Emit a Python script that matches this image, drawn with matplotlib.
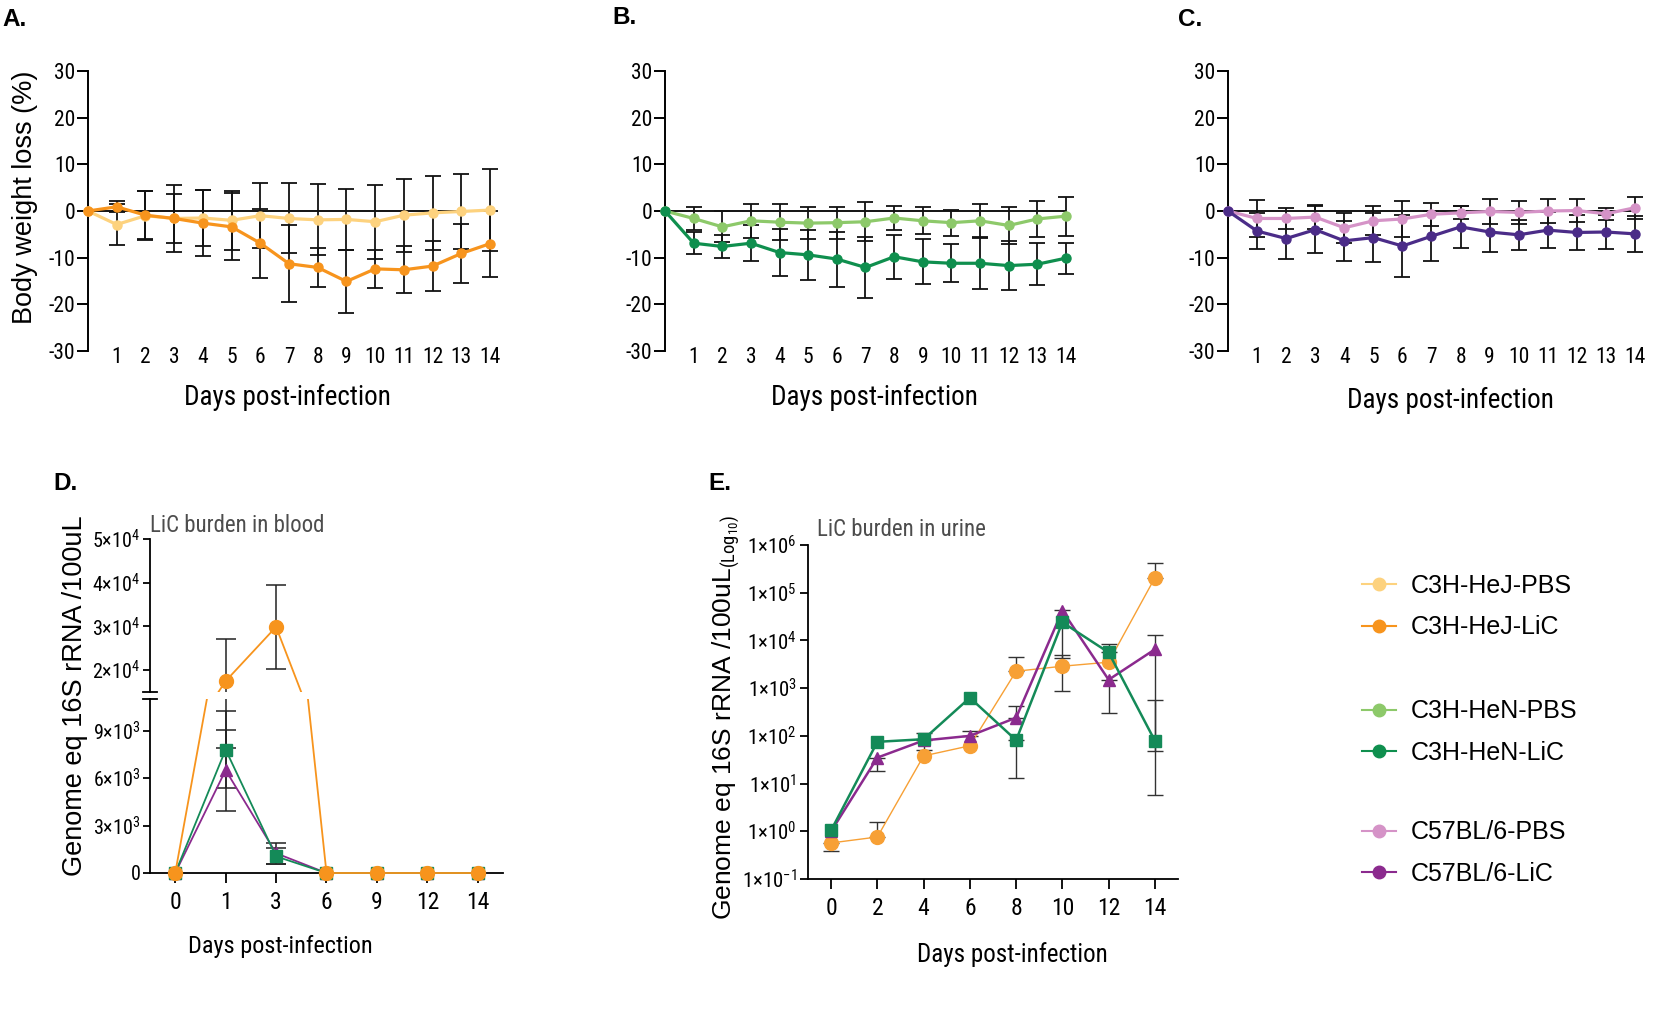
import numpy as np
import matplotlib
matplotlib.use('Agg')
import matplotlib.pyplot as plt
from matplotlib import font_manager
from matplotlib.lines import Line2D

def pick_font(names):
    for n in names:
        try:
            font_manager.findfont(font_manager.FontProperties(family=n), fallback_to_default=False)
            return n
        except Exception:
            pass
    return 'DejaVu Sans'

narrow = pick_font(['Liberation Sans Narrow', 'Roboto Condensed', 'Liberation Sans'])
regular = pick_font(['Liberation Sans', 'Arial', 'DejaVu Sans'])

plt.rcParams['font.family'] = [narrow, 'DejaVu Sans']
plt.rcParams['axes.unicode_minus'] = False
plt.rcParams['mathtext.fontset'] = 'custom'
plt.rcParams['mathtext.rm'] = narrow
plt.rcParams['mathtext.it'] = narrow
plt.rcParams['mathtext.bf'] = narrow

# ---- body weight (A-C), days 0..14
days = np.arange(15)
hej_pbs = [0, -2.9, -1.0, -1.6, -1.5, -2.0, -1.0, -1.6, -1.9, -1.8, -2.3, -0.9, -0.4, -0.1, 0.2]
hej_pbs_sd = [np.nan, 4.3, 5.2, 5.3, 5.9, 6.3, 7.0, 7.5, 7.6, 6.5, 7.9, 7.8, 8.0, 8.0, 8.7]
hej_lic = [0, 0.9, -0.9, -1.6, -2.6, -3.4, -6.9, -11.3, -12.1, -15.1, -12.4, -12.6, -11.8, -9.1, -7.0]
hej_lic_sd = [np.nan, 1.2, 5.1, 7.2, 7.0, 7.2, 7.4, 8.3, 4.1, 6.7, 4.0, 5.0, 5.4, 6.4, 7.1]

hen_pbs = [0, -1.6, -3.4, -2.1, -2.4, -2.6, -2.5, -2.3, -1.5, -2.1, -2.5, -2.1, -3.1, -1.7, -1.1]
hen_pbs_sd = [np.nan, 2.4, 3.3, 3.6, 3.9, 3.4, 3.4, 4.2, 2.6, 2.9, 2.8, 3.6, 3.9, 3.9, 4.2]
hen_lic = [0, -6.9, -7.6, -6.9, -8.9, -9.4, -10.3, -12.1, -9.8, -10.9, -11.2, -11.2, -11.7, -11.4, -10.1]
hen_lic_sd = [np.nan, 2.3, 2.5, 3.8, 5.0, 5.4, 5.9, 6.6, 4.7, 4.8, 4.1, 5.6, 5.2, 4.5, 3.3]

c57_pbs = [0, -1.6, -1.6, -1.3, -3.6, -2.1, -1.7, -0.7, -0.4, -0.1, -0.3, 0.0, 0.1, -0.6, 0.7]
c57_pbs_sd = [np.nan, 3.9, 2.3, 2.5, 3.2, 3.1, 3.8, 2.5, 1.4, 2.6, 2.4, 2.5, 2.4, 1.3, 2.4]
c57_lic = [0, -4.3, -5.9, -4.0, -6.4, -5.7, -7.5, -5.4, -3.4, -4.5, -5.1, -4.1, -4.6, -4.5, -4.9]
c57_lic_sd = [np.nan, 3.8, 4.4, 5.1, 4.3, 5.3, 6.6, 5.3, 4.5, 4.2, 3.2, 3.8, 3.7, 3.6, 3.9]

# ---- blood burden (D)
blood_days = ['0', '1', '3', '6', '9', '12', '14']
blood_hej = [0, 17500, 29900, 0, 0, 0, 0]
blood_hej_sd = [np.nan, 9600, 9600, np.nan, np.nan, np.nan, np.nan]
blood_hen = [0, 7800, 1050, 0, 0, 0, 0]
blood_hen_sd = [np.nan, 2450, 500, np.nan, np.nan, np.nan, np.nan]
blood_c57 = [0, 6500, 1250, 0, 0, 0, 0]
blood_c57_sd = [np.nan, 2550, 650, np.nan, np.nan, np.nan, np.nan]

# ---- urine burden (E), mean and error-bar ends
urine_days = [0, 2, 4, 6, 8, 10, 12, 14]
urine_hej = [0.57, 0.76, 38, 62, 2260, 2880, 3500, 2.05e5]
urine_hej_lo = [0.38, np.nan, np.nan, np.nan, np.nan, 860, np.nan, np.nan]
urine_hej_hi = [np.nan, 1.55, np.nan, np.nan, 4500, 5040, np.nan, 4.1e5]
urine_hen = [1.05, 75, 85, 630, 81, 24000, 5600, 79]
urine_hen_lo = [np.nan, np.nan, np.nan, np.nan, 13, 4300, np.nan, 49]
urine_hen_hi = [np.nan, np.nan, 115, np.nan, np.nan, 44000, 8500, 560]
urine_c57 = [1.0, 35, 80, 100, 240, 42000, 1500, 6500]
urine_c57_lo = [np.nan, 18, 51, np.nan, np.nan, np.nan, 300, 5.9]
urine_c57_hi = [np.nan, np.nan, np.nan, 128, 430, np.nan, np.nan, 13200]

groups = ['C3H-HeJ-PBS', 'C3H-HeJ-LiC', 'C3H-HeN-PBS', 'C3H-HeN-LiC', 'C57BL/6-PBS', 'C57BL/6-LiC']
colors = ['#fdd27e', '#f7941d', '#8dc96a', '#0f8f4e', '#d593c7', '#8b2a8e']
c57_dark = '#4b2c88'

W, H = 1674, 1034
fig = plt.figure(figsize=(W / 100, H / 100), dpi=100)

def box(l, t, r, b):
    return [l / W, 1 - b / H, (r - l) / W, (b - t) / H]

def weight_panel(rect, pbs, pbs_sd, lic, lic_sd, c_pbs, c_lic):
    ax = fig.add_axes(box(*rect))
    ax.axhline(0, color='black', lw=1.3, zorder=1)
    for m, sd, c in ((pbs, pbs_sd, c_pbs), (lic, lic_sd, c_lic)):
        ax.errorbar(days, m, yerr=sd, fmt='none', ecolor='#111111', elinewidth=1.3,
                    capsize=6, capthick=1.3, zorder=2, clip_on=False)
    for m, c in ((pbs, c_pbs), (lic, c_lic)):
        ax.plot(days, m, '-o', color=c, lw=2.3, ms=6.5, zorder=3, clip_on=False)
    ax.set_xlim(0, 14)
    ax.set_ylim(-30, 30)
    for s in ('top', 'right', 'bottom'):
        ax.spines[s].set_visible(False)
    ax.spines['left'].set_linewidth(1.4)
    ax.set_yticks([-30, -20, -10, 0, 10, 20, 30])
    ax.set_yticklabels(['-30', '-20', '-10', '0', '10', '20', '30'])
    ax.set_xticks(range(1, 15))
    ax.set_xticklabels([str(d) for d in range(1, 15)])
    ax.tick_params(axis='y', length=8, width=1.4, labelsize=15.5, pad=1)
    ax.tick_params(axis='x', length=0, labelsize=15.5, pad=-3)
    ax.patch.set_alpha(0)
    return ax

weight_panel((88, 71, 490, 351), hej_pbs, hej_pbs_sd, hej_lic, hej_lic_sd, colors[0], colors[1])
weight_panel((665, 71, 1066, 351), hen_pbs, hen_pbs_sd, hen_lic, hen_lic_sd, colors[2], colors[3])
weight_panel((1228, 71, 1635, 351), c57_pbs, c57_pbs_sd, c57_lic, c57_lic_sd, colors[4], c57_dark)

fig.text(25 / W, 1 - 197 / H, 'Body weight loss (%)', rotation=90, ha='center', va='center',
         fontsize=19.5, family=regular)
for xc, yc in ((287, 397), (874, 397), (1450, 400)):
    fig.text(xc / W, 1 - yc / H, 'Days post-infection', ha='center', va='center', fontsize=19.5)

# ---- D: broken axis (lower part padded below 0 so markers on the axis are not clipped)
pad = 600
ax_up = fig.add_axes(box(150, 539, 503, 692))
ax_lo = fig.add_axes(box(150, 699, 503, 873 + 174 * pad / 11000))
xpos = np.arange(len(blood_days))
series_d = [(blood_c57, blood_c57_sd, colors[5], '^', 9),
            (blood_hen, blood_hen_sd, '#148a58', 's', 8.5),
            (blood_hej, blood_hej_sd, colors[1], 'o', 10)]
for ax in (ax_up, ax_lo):
    for m, sd, c, mk, ms in series_d:
        ax.errorbar(xpos, m, yerr=sd, fmt='none', ecolor='#222222', elinewidth=1.1,
                    capsize=7, capthick=1.1, zorder=2)
    for m, sd, c, mk, ms in series_d:
        ax.plot(xpos, m, '-', marker=mk, color=c, lw=1.3, ms=ms, zorder=3)
    ax.set_xlim(-0.5, 6.5)
    for s in ('top', 'right'):
        ax.spines[s].set_visible(False)
    ax.spines['left'].set_linewidth(1.3)
    ax.tick_params(axis='y', length=5, width=1.3, labelsize=14.5, pad=2)
    ax.patch.set_alpha(0)
ax_up.set_ylim(15000, 50000)
ax_lo.set_ylim(-pad, 11000)
ax_lo.spines['bottom'].set_position(('data', 0))
ax_lo.spines['left'].set_bounds(0, 11000)
ax_up.spines['bottom'].set_visible(False)
ax_up.set_xticks([])
ax_up.set_yticks([20000, 30000, 40000, 50000])
ax_up.set_yticklabels([r'$\mathrm{%d{\times}10^{4}}$' % v for v in (2, 3, 4, 5)])
ax_lo.set_yticks([0, 3000, 6000, 9000])
ax_lo.set_yticklabels(['0'] + [r'$\mathrm{%d{\times}10^{3}}$' % v for v in (3, 6, 9)])
ax_lo.spines['bottom'].set_linewidth(1.3)
ax_lo.set_xticks(xpos)
ax_lo.set_xticklabels(blood_days)
ax_lo.tick_params(axis='x', length=7, width=1.3, labelsize=17, pad=6)
d = 7 / 353
ax_up.plot([-d, d], [0, 0], transform=ax_up.transAxes, color='black', lw=1.3, clip_on=False)
ax_lo.plot([-d, d], [1, 1], transform=ax_lo.transAxes, color='black', lw=1.3, clip_on=False)

fig.text(75 / W, 1 - 696 / H, 'Genome eq 16S rRNA /100uL', rotation=90, ha='center', va='center',
         fontsize=19.5, family=regular)
fig.text(280 / W, 1 - 947 / H, 'Days post-infection', ha='center', va='center', fontsize=17.5)
fig.text(237 / W, 1 - 525 / H, 'LiC burden in blood', ha='center', va='center', fontsize=16.5,
         color='#4d4d4d')

# ---- E: log axis
ax_e = fig.add_axes(box(808, 545, 1178, 879))

def err_from_bounds(m, lo, hi):
    m = np.array(m, float)
    lo = np.array(lo, float)
    hi = np.array(hi, float)
    e_lo = np.where(np.isnan(lo), 0, m - lo)
    e_hi = np.where(np.isnan(hi), 0, hi - m)
    none = np.isnan(lo) & np.isnan(hi)
    e_lo[none] = np.nan
    e_hi[none] = np.nan
    return [e_lo, e_hi]

series_e = [(urine_hej, urine_hej_lo, urine_hej_hi, '#f7a035', 'o', 10, 1.0),
            (urine_c57, urine_c57_lo, urine_c57_hi, colors[5], '^', 9, 1.8),
            (urine_hen, urine_hen_lo, urine_hen_hi, '#148a58', 's', 9, 1.8)]
for m, lo, hi, c, mk, ms, lw in series_e:
    ax_e.errorbar(urine_days, m, yerr=err_from_bounds(m, lo, hi), fmt='none', ecolor='#333333',
                  elinewidth=1.0, capsize=6, capthick=1.0, zorder=2)
for m, lo, hi, c, mk, ms, lw in series_e:
    ax_e.plot(urine_days, m, '-', marker=mk, color=c, lw=lw, ms=ms, zorder=3, clip_on=False)
ax_e.set_yscale('log')
ax_e.set_ylim(0.1, 1e6)
ax_e.set_xlim(-1, 15)
ax_e.set_yticks([10.0 ** k for k in range(-1, 7)])
ax_e.set_yticklabels([r'$\mathrm{1{\times}10^{%d}}$' % k for k in range(-1, 7)])
ax_e.yaxis.set_minor_locator(matplotlib.ticker.NullLocator())
ax_e.set_xticks(urine_days)
ax_e.set_xticklabels([str(v) for v in urine_days])
for s in ('top', 'right'):
    ax_e.spines[s].set_visible(False)
for s in ('left', 'bottom'):
    ax_e.spines[s].set_linewidth(1.3)
ax_e.tick_params(axis='y', length=6, width=1.3, labelsize=15, pad=2)
ax_e.tick_params(axis='x', length=7, width=1.3, labelsize=17, pad=6)
ax_e.patch.set_alpha(0)

fig.text(726 / W, 1 - 717 / H, 'Genome eq 16S rRNA /100uL' + r'$_{\mathrm{(Log_{10})}}$', rotation=90,
         ha='center', va='center', fontsize=19, family=regular)
fig.text(1012 / W, 1 - 955 / H, 'Days post-infection', ha='center', va='center', fontsize=18)
fig.text(901 / W, 1 - 530 / H, 'LiC burden in urine', ha='center', va='center', fontsize=16.5,
         color='#4d4d4d')

# ---- panel letters
for lab, xl, yl in (('A.', 2, 19), ('B.', 612, 17), ('C.', 1178, 19), ('D.', 53, 484), ('E.', 708, 484)):
    fig.text(xl / W, 1 - yl / H, lab, ha='left', va='center', fontsize=17.5, fontweight='bold',
             family=regular)

# ---- legend, three pairs
for i, yc in enumerate((606.5, 732, 853)):
    hs = [Line2D([], [], color=colors[2 * i + k], marker='o', lw=1.5, ms=9) for k in range(2)]
    fig.legend(hs, groups[2 * i:2 * i + 2], loc='center left', bbox_to_anchor=(1362 / W, 1 - yc / H),
               frameon=False, prop={'family': regular, 'size': 18}, handlelength=1.35,
               handletextpad=0.6, labelspacing=0.7, borderpad=0, borderaxespad=0)

fig.savefig('out.png', dpi=100)
